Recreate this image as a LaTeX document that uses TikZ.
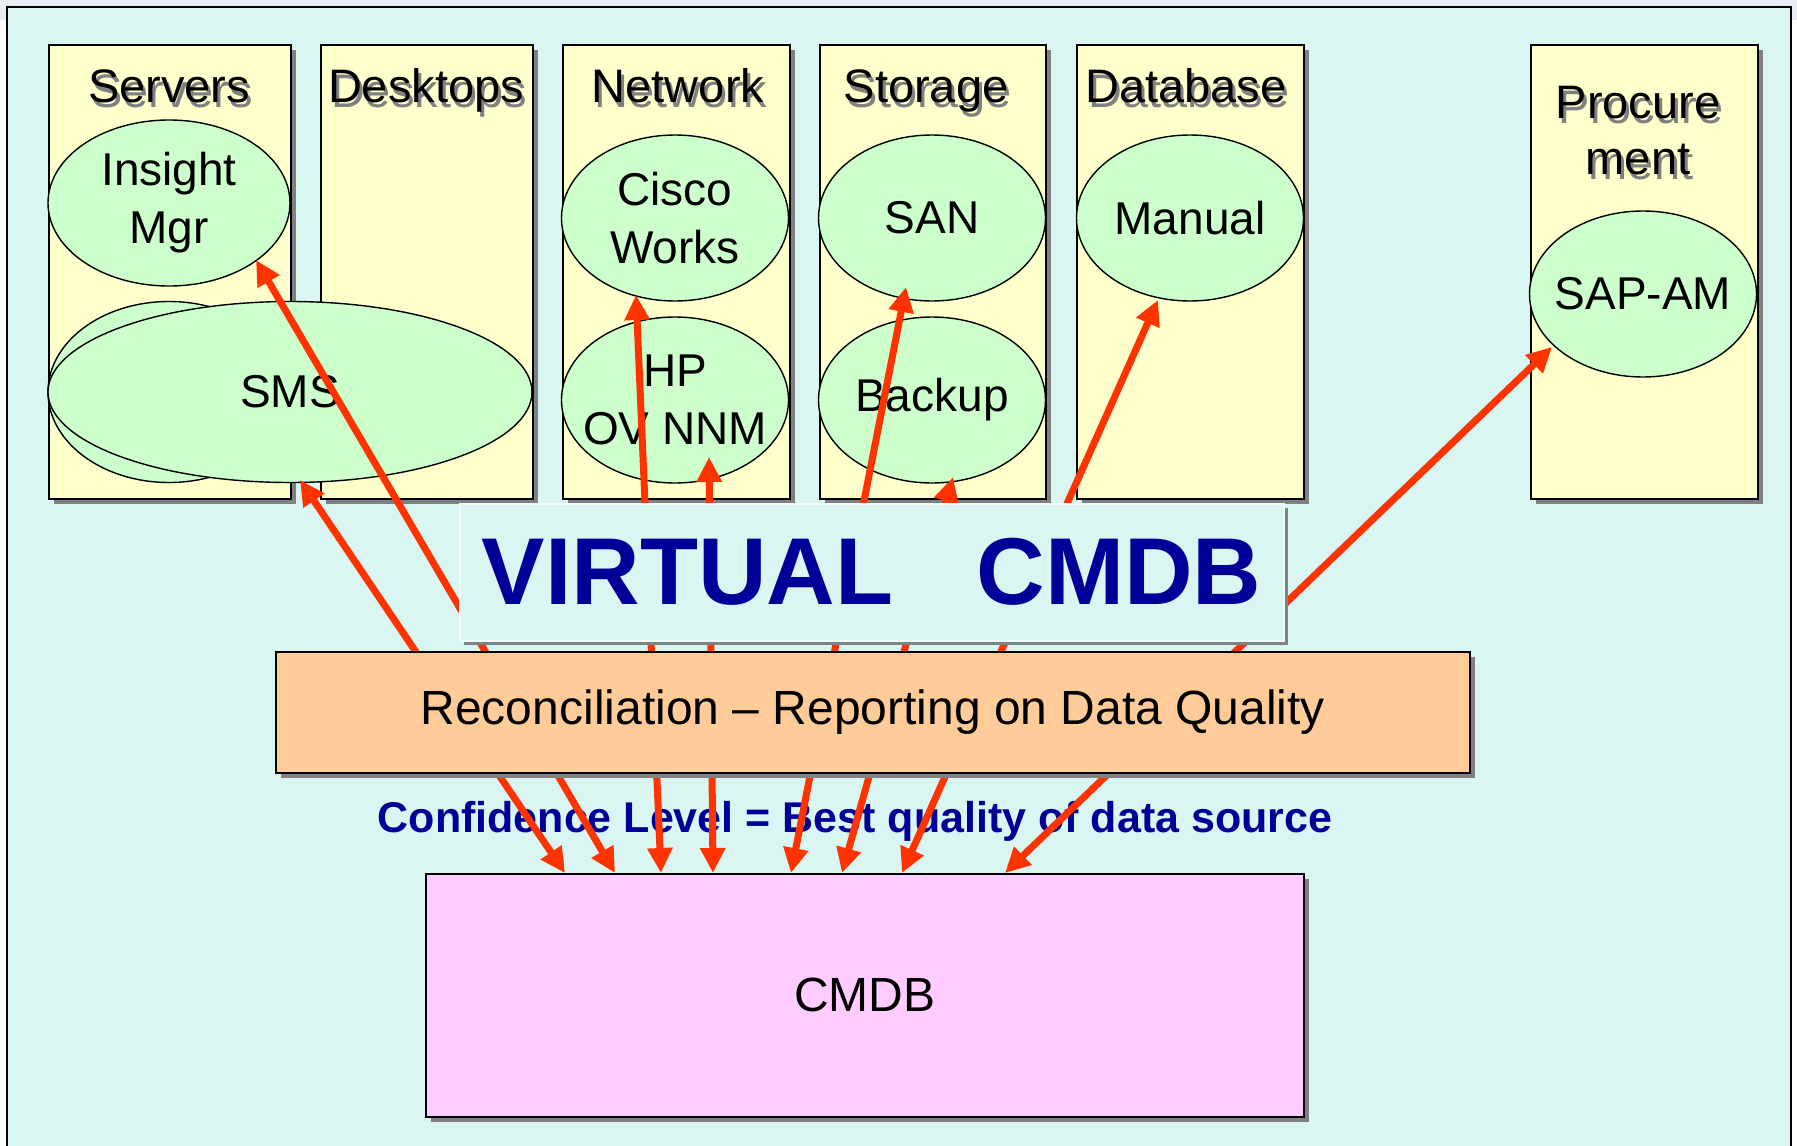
\documentclass[tikz,border=0pt]{standalone}
\usepackage{fontspec}
\setmainfont{Liberation Sans}
\usetikzlibrary{arrows.meta,calc,shadows,shapes.geometric}

\definecolor{slidecyan}{HTML}{DAF6F2}
\definecolor{edgegray}{HTML}{E9ECF2}
\definecolor{colyellow}{HTML}{FFFFCC}
\definecolor{srcgreen}{HTML}{CCFFCC}
\definecolor{recpeach}{HTML}{FFCC99}
\definecolor{dbpink}{HTML}{FFCCFF}
\definecolor{titleblue}{HTML}{000099}
\definecolor{flowred}{HTML}{FF3300}
\definecolor{shadegray}{HTML}{808080}

\tikzset{
  column/.style={draw=black, line width=1.8pt, fill=colyellow, anchor=north west,
    inner sep=0pt, minimum height=454pt,
    drop shadow={shadow xshift=5pt, shadow yshift=-5pt, fill=shadegray, opacity=1}},
  source/.style={ellipse, draw=black, line width=1.4pt, fill=srcgreen,
    inner xsep=-40pt, inner ysep=0pt,
    minimum width=227pt, minimum height=166pt, align=center,
    font=\fontsize{46}{58}\selectfont},
  collabel/.style={anchor=base, font=\fontsize{47}{56}\selectfont},
  panel/.style={draw=black, line width=1.8pt, anchor=north west, inner sep=0pt,
    drop shadow={shadow xshift=5pt, shadow yshift=-5pt, fill=shadegray, opacity=1}},
  flow/.style={draw=flowred, line width=7pt,
    {Triangle[length=25pt,width=24pt]}-{Triangle[length=25pt,width=24pt]}},
}

% label with a grey copy behind it
\newcommand{\shadowlabel}[4][]{%
  \node[collabel, #1, text=shadegray] at ($#3+(3,5)$) {#4};
  \node[collabel, #1] (#2) at #3 {#4};}

\begin{document}
\begin{tikzpicture}[x=1pt, y=-1pt]
  \useasboundingbox (0,0) rectangle (1797,1146);

  % slide
  \fill[white] (0,0) rectangle (1797,1146);
  \fill[edgegray] (0,0) rectangle (1797,20);
  \filldraw[fill=slidecyan, draw=black, line width=2pt] (7,1160) -- (7,7) -- (1791,7) -- (1791,1160);

  % columns
  \node[column, minimum width=242pt] (servers) at (48,44) {};
  \node[column, minimum width=212pt] (desktops) at (320,44) {};
  \node[column, minimum width=227pt] (network) at (562,44) {};
  \node[column, minimum width=226pt] (storage) at (819,44) {};
  \node[column, minimum width=227pt] (database) at (1076,44) {};
  \node[column, minimum width=227pt] (procurement) at (1530,44) {};

  \shadowlabel{servers-lbl}{(169,102)}{Servers}
  \shadowlabel{desktops-lbl}{(426,102)}{Desktops}
  \shadowlabel{network-lbl}{(678,102)}{Network}
  \shadowlabel{storage-lbl}{(926,102)}{Storage}
  \shadowlabel{database-lbl}{(1186,102)}{Database}
  \shadowlabel[anchor=center, align=center]{procurement-lbl}{(1638,131)}{Procure\\ment}

  % sources
  \node[source, minimum width=242pt] (insight) at (169,203) {Insight\\Mgr};
  \node[source, minimum width=242pt, minimum height=181pt] (smsback) at (169,392) {};
  \node[source, minimum width=484pt, minimum height=181pt] (sms) at (290,392) {SMS};
  \node[source] (cisco) at (675,218) {Cisco\\Works};
  \node[source] (hp) at (675,400) {HP\\OV NNM};
  \node[source] (san) at (932,218) {SAN};
  \node[source] (backup) at (932,400) {Backup};
  \node[source] (manual) at (1190,218) {Manual};
  \node[source] (sapam) at (1643,294) {SAP-AM};

  % cmdb
  \node[panel, fill=dbpink, minimum width=878pt, minimum height=243pt,
    font=\fontsize{48}{56}\selectfont] (cmdb) at (425,873) {CMDB};

  \node[anchor=base, text=titleblue, font=\bfseries\fontsize{43}{50}\selectfont]
    (confidence) at (855,832) {Confidence Level = Best quality of data source};

  % feeds
  \draw[flow] ($(sms)+(10,88)$) -- ($(cmdb.north west)+(140,0)$);
  \draw[flow] ($(insight)+(87,57)$) -- ($(cmdb.north west)+(190,0)$);
  \draw[flow] ($(cisco)+(-39,77)$) -- ($(cmdb.north west)+(236,0)$);
  \draw[flow] ($(hp)+(34,57)$) -- ($(cmdb.north west)+(288,0)$);
  \draw[flow] ($(san)+(-26,69)$) -- ($(cmdb.north west)+(366,0)$);
  \draw[flow] ($(backup)+(21,77)$) -- ($(cmdb.north west)+(417,0)$);
  \draw[flow] ($(manual)+(-32,82)$) -- ($(cmdb.north west)+(477,0)$);
  \draw[flow] ($(sapam)+(-91,53)$) -- ($(cmdb.north west)+(580,0)$);

  % virtual cmdb
  \node[draw=white!60!slidecyan, line width=1.5pt, fill=slidecyan, anchor=north west,
    inner sep=0pt, minimum width=824pt, minimum height=137pt,
    drop shadow={shadow xshift=4pt, shadow yshift=-4pt, fill=black!45!slidecyan, opacity=1},
    text=titleblue, font=\bfseries\fontsize{95}{100}\selectfont]
    (virtual) at (459,503) {VIRTUAL\hspace{83pt}CMDB};

  % reconciliation
  \node[panel, fill=recpeach, minimum width=1194pt, minimum height=121pt,
    font=\fontsize{48}{56}\selectfont]
    (recon) at (275,651) {Reconciliation -- Reporting on Data Quality};
\end{tikzpicture}
\end{document}
